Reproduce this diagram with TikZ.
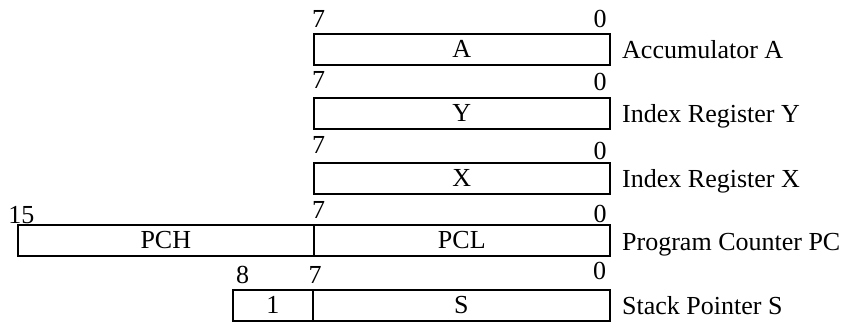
\documentclass[tikz,border=0pt]{standalone}
\usepackage{fontspec}
\setmainfont{Liberation Serif}
\begin{document}
\begin{tikzpicture}[x=1pt,y=-1pt,
  every node/.style={font=\fontsize{26}{30}\selectfont, inner sep=0pt},
  regbox/.style={draw=black, line width=1.6pt, minimum height=31pt, anchor=north west},
  bitnum/.style={anchor=base},
  regname/.style={anchor=base west}]
\useasboundingbox (0,0) rectangle (850,322);
% Accumulator A
\node[bitnum] (a7) at (318.5,27) {7};
\node[bitnum] (a0) at (600,27) {0};
\node[regbox, minimum width=296pt] (A) at (313,33) {A};
\node[regname] (la) at (622,58) {Accumulator A};
% Index Y
\node[bitnum] (y7) at (318.5,88) {7};
\node[bitnum] (y0) at (600,90) {0};
\node[regbox, minimum width=296pt] (Y) at (313,97) {Y};
\node[regname] (ly) at (622,122) {Index Register Y};
% Index X
\node[bitnum] (x7) at (318.5,153) {7};
\node[bitnum] (x0) at (600,159) {0};
\node[regbox, minimum width=296pt] (X) at (313,162) {X};
\node[regname] (lx) at (622,187) {Index Register X};
% Program counter
\node[bitnum] (p15) at (21.5,223) {15};
\node[bitnum] (p7) at (318.5,218) {7};
\node[bitnum] (p0) at (600,222) {0};
\node[regbox, minimum width=296pt] (PCH) at (17,224) {PCH};
\node[regbox, minimum width=296pt] (PCL) at (313,224) {PCL};
\node[regname] (lpc) at (622,250) {Program Counter PC};
% Stack pointer
\node[bitnum] (s8) at (242.5,283) {8};
\node[bitnum] (s7) at (315,283) {7};
\node[bitnum] (s0) at (599.5,279) {0};
\node[regbox, minimum width=80pt] (S1) at (232,289) {1};
\node[regbox, minimum width=297pt] (S) at (312,289) {S};
\node[regname] (ls) at (622,314.5) {Stack Pointer S};
\end{tikzpicture}
\end{document}
